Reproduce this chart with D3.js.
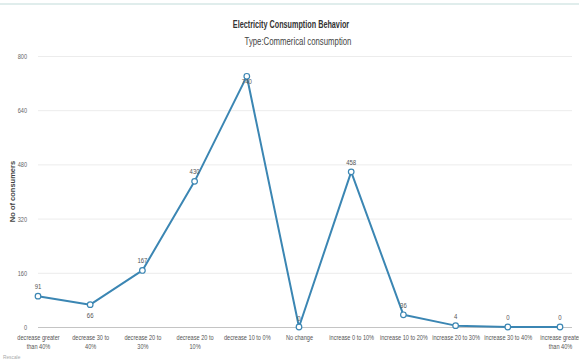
<!DOCTYPE html>
<html>
<head>
<meta charset="utf-8">
<script src="https://cdn.jsdelivr.net/npm/d3@7"></script>
<style>
  html, body { margin: 0; padding: 0; background: #fff; }
  svg { display: block; font-family: "Liberation Sans", Arial, sans-serif; }
</style>
</head>
<body>
<svg id="chart" width="579" height="362"></svg>
<script>
// Consumption change buckets and number of consumers in each
const categories = [
  ["decrease greater", "than 40%"],
  ["decrease 30 to", "40%"],
  ["decrease 20 to", "30%"],
  ["decrease 20 to", "10%"],
  ["decrease 10 to 0%"],
  ["No change"],
  ["increase 0 to 10%"],
  ["increase 10 to 20%"],
  ["increase 20 to 30%"],
  ["increase 30 to 40%"],
  ["increase greater", "than 40%"]
];
const consumers = [91, 66, 167, 430, 740, 0, 458, 36, 4, 0, 0];
const yTicks = [0, 160, 320, 480, 640, 800];
// vertical nudge for each value label (negative = above the point)
const labelShift = [-7, 13, -7, -7, 8, -6, -7, -7, -7, -7, -7];

const svg = d3.select("#chart");
const W = 579, H = 362;
const margin = { left: 38, right: 19, top: 56, bottom: 35 };
const NARROW = 0.8; // horizontal squeeze giving a narrow face

// text drawn with a narrow squeeze around its anchor point
function narrowText(parent, px, py, str, opts) {
  const g = parent.append("g").attr("transform", `translate(${px},${py})`);
  const t = g.append("text").attr("transform", `scale(${opts.k || NARROW},1)`)
    .attr("text-anchor", opts.anchor || "middle")
    .attr("font-size", opts.size).attr("fill", opts.fill || "#555");
  if (opts.weight) t.attr("font-weight", opts.weight);
  if (Array.isArray(str)) {
    str.forEach((line, j) => t.append("tspan").attr("x", 0).attr("y", j * (opts.lh || 9.5)).text(line));
  } else {
    t.text(str);
  }
  return g;
}

const keys = categories.map((c, i) => i);
const x = d3.scalePoint().domain(keys).range([margin.left, W - margin.right]).padding(0);
const y = d3.scaleLinear().domain([0, 800]).range([H - margin.bottom, margin.top]);

// top border strip
svg.append("line").attr("x1", 0).attr("x2", W).attr("y1", 4).attr("y2", 4)
  .attr("stroke", "#d6e7e6").attr("stroke-width", 1.5);

// titles
narrowText(svg, 291, 28, "Electricity Consumption Behavior", { size: 10.5, weight: "bold", fill: "#333", k: 0.69 });
narrowText(svg, 298, 45, "Type:Commerical consumption", { size: 10, fill: "#444", k: 0.78 });

// y gridlines
const yAxis = d3.axisLeft(y).tickValues(yTicks).tickSize(-(W - margin.right + 12 - margin.left)).tickFormat(() => "");
const gy = svg.append("g").attr("transform", `translate(${margin.left},0)`).call(yAxis);
gy.select(".domain").remove();
gy.selectAll(".tick line").attr("stroke", d => d === 0 ? "#c4c4c4" : "#ececec").attr("stroke-width", d => d === 0 ? 1.2 : 1);
// y tick labels
gy.selectAll(".tick").each(function (d) {
  narrowText(d3.select(this), -11, 2.5, String(d), { size: 7, anchor: "end", fill: "#666" });
});

// y axis title
svg.append("text")
  .attr("transform", `translate(15,${(y(0) + y(800)) / 2}) rotate(-90)`)
  .attr("text-anchor", "middle").attr("font-size", 7.5).attr("font-weight", "bold")
  .attr("fill", "#444")
  .text("No of consumers");

// x category labels (wrapped)
const xAxis = d3.axisBottom(x).tickSize(0).tickFormat(() => "");
const gx = svg.append("g").attr("transform", `translate(0,${y(0)})`).call(xAxis);
gx.select(".domain").remove();
gx.selectAll(".tick").each(function (d) {
  narrowText(d3.select(this), 0, 13, categories[d], { size: 7, fill: "#555", lh: 9.5 });
});

// series line
const line = d3.line().x((d, i) => x(i)).y(d => y(d));
svg.append("path").datum(consumers)
  .attr("fill", "none").attr("stroke", "#3b86b3").attr("stroke-width", 2)
  .attr("stroke-linejoin", "round").attr("d", line);

// point markers
svg.selectAll("circle.pt").data(consumers).join("circle").attr("class", "pt")
  .attr("cx", (d, i) => x(i)).attr("cy", d => y(d)).attr("r", 2.8)
  .attr("fill", "#fff").attr("stroke", "#3b86b3").attr("stroke-width", 1.2);

// value labels
const vals = svg.append("g");
consumers.forEach((d, i) => {
  narrowText(vals, x(i), y(d) + labelShift[i], String(d), { size: 7.5, fill: "#555" });
});

// small footer note
narrowText(svg, 3, 359, "Rescale", { size: 6, anchor: "start", fill: "#aaa" });
</script>
</body>
</html>
